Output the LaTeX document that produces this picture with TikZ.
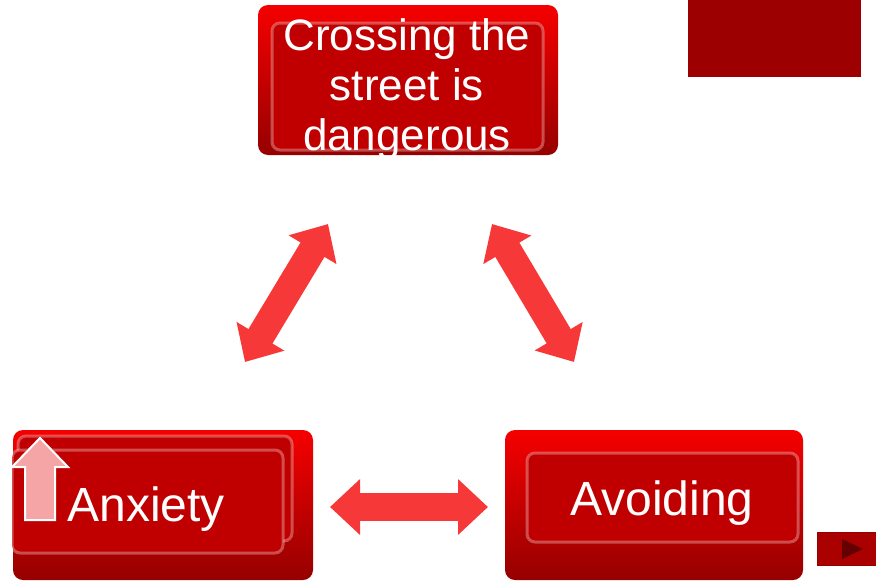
\documentclass[tikz,border=0pt]{standalone}
\usepackage{fontspec}
\setmainfont{Liberation Sans}
\usetikzlibrary{arrows.meta}
\definecolor{boxtop}{RGB}{245, 0, 0}
\definecolor{boxmid}{RGB}{200, 0, 0}
\definecolor{boxbot}{RGB}{150, 0, 0}
\definecolor{boxface}{RGB}{192, 0, 0}
\definecolor{arrowred}{RGB}{246, 56, 56}
\definecolor{darkred}{RGB}{156, 0, 0}
\definecolor{navred}{RGB}{170, 0, 0}
\definecolor{navtri}{RGB}{100, 0, 0}
\definecolor{uppink}{RGB}{245, 165, 165}

\begin{document}
\begin{tikzpicture}[x=1pt, y=-1pt,
    outerbox/.style={rounded corners=10pt, top color=boxtop, middle color=boxmid, bottom color=boxbot},
    innerbox/.style={rounded corners=8pt, fill=boxface, draw=white, draw opacity=0.3, line width=3pt},
    boxtext/.style={text=white, font=\fontsize{44}{50}\selectfont, align=center},
    bigtext/.style={text=white, font=\fontsize{48}{54}\selectfont},
    cycle/.style={draw=arrowred, line width=28pt, {Triangle[length=30pt, width=54pt]}-{Triangle[length=30pt, width=54pt]}}]
            \useasboundingbox (0, 0) rectangle (876, 581);

            \fill[darkred] (688, 0) rectangle (861, 77);

            \path[outerbox] (258, 5) rectangle (558, 155);
            \path[innerbox] (272, 23) rectangle (543, 150);
            \begin{scope}
                \clip[rounded corners=10pt] (258, 5) rectangle (558, 155);
                \node[boxtext] (street) at (407, 89) {Crossing the\\street is\\dangerous};
            \end{scope}

            \path[outerbox] (13, 430) rectangle (313, 580);
            \path[innerbox] (18, 436) rectangle (292, 541);
            \path[innerbox] (12, 450) rectangle (283, 553);
            \fill[uppink, draw=white, line width=2pt] (40, 438) -- (68, 467) -- (55, 467) -- (55, 520) -- (25, 520) -- (25, 467) -- (12, 467) -- cycle;
            \node[bigtext, anchor=base] (anxiety) at (146, 521) {Anxiety};

            \path[outerbox] (505, 430) rectangle (803, 580);
            \path[innerbox] (527, 453) rectangle (798, 542);
            \node[bigtext, anchor=base] (avoiding) at (662, 515) {Avoiding};

            \fill[navred, draw=boxbot] (817, 532) rectangle (878, 565);
            \fill[navtri] (842, 539) -- (863, 549) -- (842, 559) -- cycle;

            \coordinate (l1) at (245, 362);
            \coordinate (l2) at (328, 224);
            \coordinate (r1) at (492, 224);
            \coordinate (r2) at (574, 362);
            \coordinate (h1) at (330, 507);
            \coordinate (h2) at (488, 507);

            \draw[cycle] (l1) -- (l2);
            \draw[cycle] (r1) -- (r2);
            \draw[cycle] (h1) -- (h2);
        \end{tikzpicture}
\end{document}
